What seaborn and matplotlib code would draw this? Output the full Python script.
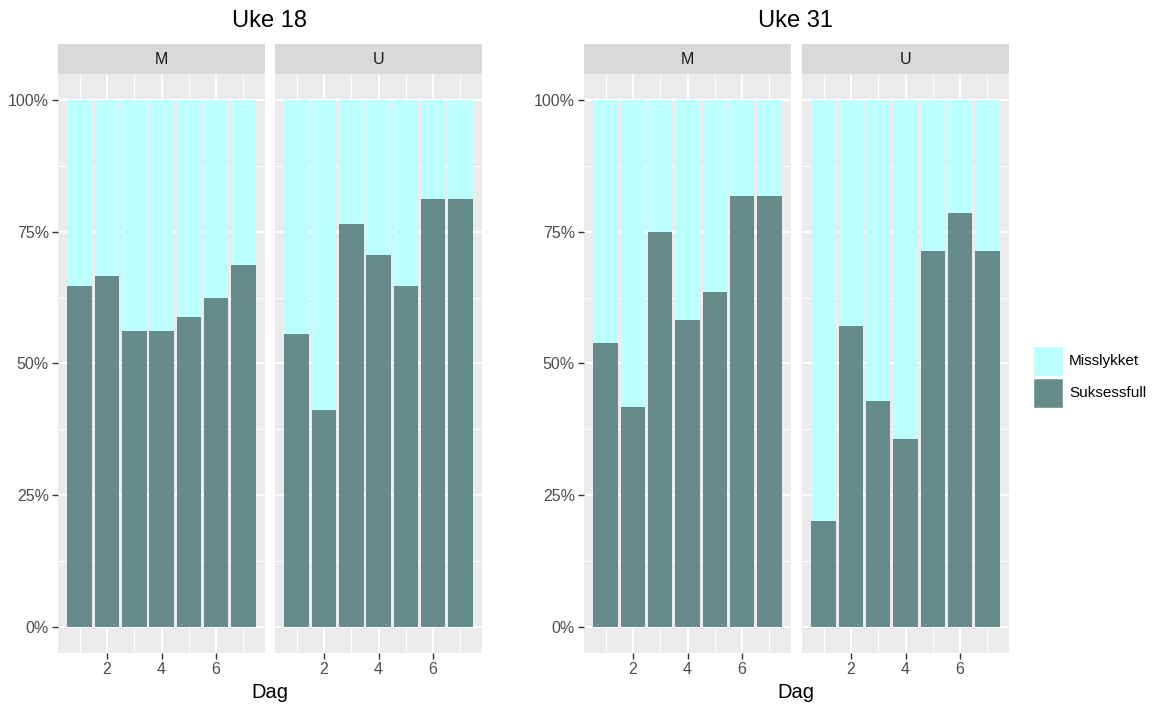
import numpy as np
import pandas as pd
import matplotlib

matplotlib.use("Agg")
import matplotlib.pyplot as plt
import seaborn as sns
from matplotlib.patches import Rectangle
from matplotlib.ticker import PercentFormatter

# andel suksessfulle forsok per dag, per uke og gruppe
dager = [1, 2, 3, 4, 5, 6, 7]
uke18_m = [0.647, 0.667, 0.5625, 0.5625, 0.588, 0.625, 0.6875]
uke18_u = [0.556, 0.412, 0.765, 0.706, 0.647, 0.8125, 0.8125]
uke31_m = [0.538, 0.417, 0.75, 0.583, 0.636, 0.818, 0.818]
uke31_u = [0.2, 0.571, 0.429, 0.357, 0.714, 0.786, 0.714]

uker = ["Uke 18", "Uke 31"]
grupper = ["M", "U"]
utfall = ["Misslykket", "Suksessfull"]
farger = {"Misslykket": "#BBFFFF", "Suksessfull": "#668B8B"}

rows = []
for uke, serier in zip(uker, [(uke18_m, uke18_u), (uke31_m, uke31_u)]):
    for gruppe, verdier in zip(grupper, serier):
        for d, s in zip(dager, verdier):
            rows.append({"uke": uke, "gruppe": gruppe, "Dag": d,
                         "suksess": s, "misslykket": 1 - s})
df = pd.DataFrame(rows)
df["total"] = df["suksess"] + df["misslykket"]

sns.set_theme(style="darkgrid")
plt.rcParams["font.family"] = ["Liberation Sans", "DejaVu Sans"]

fig = plt.figure(figsize=(11.56, 7.06), dpi=100)
W, H = 1156, 706

# panelposisjoner i piksler (venstre kant)
panel_x = {("Uke 18", "M"): 58, ("Uke 18", "U"): 275,
           ("Uke 31", "M"): 584, ("Uke 31", "U"): 802}
pw, top, bottom = 207, 74, 653
strip_h = 30
tick_fs = 11.5

for (uke, gruppe), x0 in panel_x.items():
    ax = fig.add_axes([x0 / W, 1 - bottom / H, pw / W, (bottom - top) / H])
    sub = df[(df["uke"] == uke) & (df["gruppe"] == gruppe)]
    sns.barplot(data=sub, x="Dag", y="total", native_scale=True, width=0.9,
                color=farger["Misslykket"], saturation=1, linewidth=0,
                errorbar=None, ax=ax)
    sns.barplot(data=sub, x="Dag", y="suksess", native_scale=True, width=0.9,
                color=farger["Suksessfull"], saturation=1, linewidth=0,
                errorbar=None, ax=ax)
    ax.set_facecolor("#EBEBEB")
    ax.set_xlim(0.205, 7.795)
    ax.set_ylim(-0.05, 1.05)
    ax.set_xticks([2, 4, 6])
    ax.set_xticks([1, 3, 5, 7], minor=True)
    ax.set_yticks([0, 0.25, 0.5, 0.75, 1.0])
    ax.set_yticks([0.125, 0.375, 0.625, 0.875], minor=True)
    ax.grid(which="major", color="white", linewidth=1.4)
    ax.grid(which="minor", color="white", linewidth=0.7)
    ax.set_axisbelow(True)
    for sp in ax.spines.values():
        sp.set_visible(False)
    ax.set_xlabel("")
    ax.set_ylabel("")
    ax.tick_params(axis="x", which="major", length=4, width=1, color="#333333",
                   labelsize=tick_fs, labelcolor="#4D4D4D", pad=2.5, bottom=True)
    ax.tick_params(which="minor", length=0)
    if gruppe == "M":
        ax.yaxis.set_major_formatter(PercentFormatter(1.0, decimals=0))
        ax.tick_params(axis="y", which="major", length=4, width=1, color="#333333",
                       labelsize=tick_fs, labelcolor="#4D4D4D", pad=2.5, left=True)
    else:
        ax.tick_params(axis="y", which="major", length=0, labelleft=False)
    # strip med gruppenavn
    ax.add_patch(Rectangle((0, 1), 1, strip_h / (bottom - top), transform=ax.transAxes,
                           facecolor="#D9D9D9", edgecolor="none", clip_on=False))
    ax.text(0.5, 1 + strip_h / 2 / (bottom - top), gruppe, transform=ax.transAxes,
            ha="center", va="center", fontsize=tick_fs, color="#1A1A1A")

for uke, xm in zip(uker, [58, 584]):
    cx = (xm + (xm + 217 + pw)) / 2 / W
    fig.text(cx, 1 - 21 / H, uke, ha="center", va="center", fontsize=17, color="black")
    fig.text(cx, 1 - 692 / H, "Dag", ha="center", va="center", fontsize=14.5, color="black")

# legende (tegnet manuelt for a fa kvadratiske nokler som i ggplot)
key = 30
for i, navn in enumerate(utfall):
    ky = 346 + i * (key + 2)
    fig.patches.append(Rectangle((1033 / W, 1 - (ky + key) / H), key / W, key / H,
                                 transform=fig.transFigure, facecolor=farger[navn],
                                 edgecolor="white", linewidth=1))
    fig.text(1069 / W, 1 - (ky + key / 2) / H, navn, ha="left", va="center",
             fontsize=11, color="black")

fig.savefig("out.png", dpi=100, facecolor="white")
plt.close(fig)
